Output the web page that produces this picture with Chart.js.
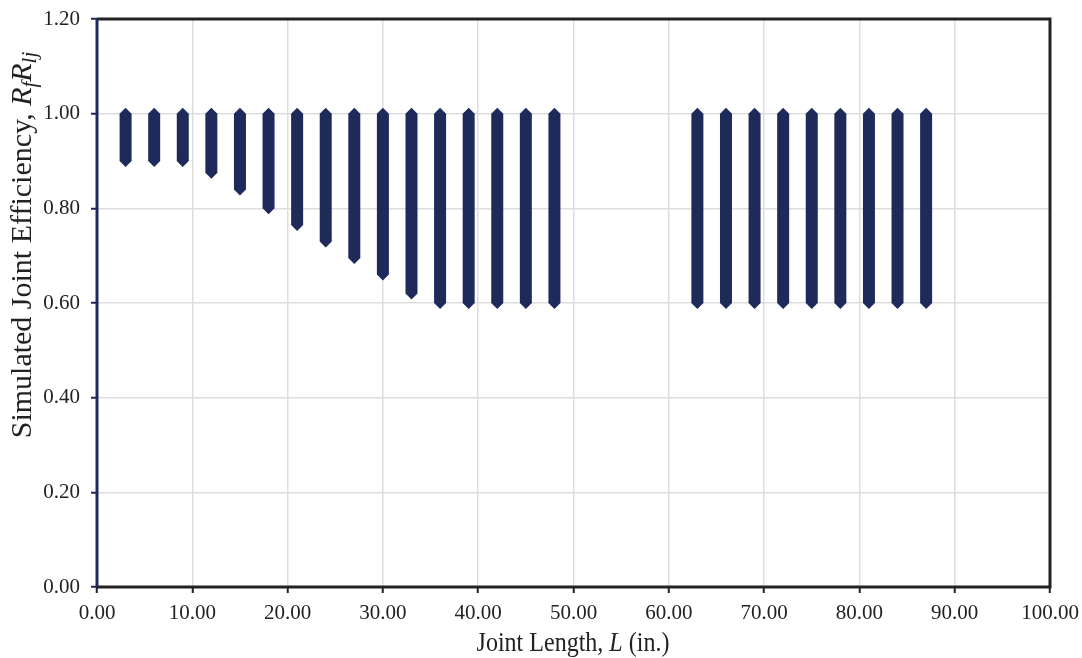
<!DOCTYPE html>
<html>
<head>
<meta charset="utf-8">
<script src="https://cdn.jsdelivr.net/npm/chart.js@4/dist/chart.umd.min.js"></script>
<style>
  html, body { margin: 0; padding: 0; background: #fff; }
  #wrap { width: 1082px; height: 658px; position: relative; }
</style>
</head>
<body>
<div id="wrap"><canvas id="myChart"></canvas></div>
<script>
// joint lengths (in.) and the range of simulated efficiency at each one
const lengths = [3, 6, 9, 12, 15, 18, 21, 24, 27, 30, 33, 36, 39, 42, 45, 48,
                 63, 66, 69, 72, 75, 78, 81, 84, 87];
const lows = [0.90, 0.90, 0.90, 0.875, 0.84, 0.80, 0.765, 0.73, 0.695, 0.66, 0.62, 0.60, 0.60, 0.60, 0.60, 0.60,
              0.60, 0.60, 0.60, 0.60, 0.60, 0.60, 0.60, 0.60, 0.60];
const highs = [1.00, 1.00, 1.00, 1.00, 1.00, 1.00, 1.00, 1.00, 1.00, 1.00, 1.00, 1.00, 1.00, 1.00, 1.00, 1.00,
               1.00, 1.00, 1.00, 1.00, 1.00, 1.00, 1.00, 1.00, 1.00];

const navy = '#1e2a5a';
const font = 'Liberation Serif';

const datasets = lengths.map((x, i) => ({
    data: [{x: x, y: lows[i]}, {x: x, y: highs[i]}],
    showLine: true,
    borderColor: navy,
    borderWidth: 12,
    borderCapStyle: 'butt',
    pointStyle: 'rectRot',
    pointRadius: 6,
    pointHoverRadius: 6,
    pointBackgroundColor: navy,
    pointBorderWidth: 0
}));

// draws a line of text with italic / subscript parts
function richText(ctx, parts, cx, cy, angle, size, sx) {
    const sub = Math.round(size * 0.7);
    const fnt = p => (p.i ? 'italic ' : '') + (p.sub ? sub : size) + 'px "' + font + '"';
    ctx.save();
    ctx.translate(cx, cy);
    ctx.rotate(angle);
    ctx.scale(sx, 1);
    ctx.fillStyle = '#222';
    ctx.textBaseline = 'middle';
    let total = 0;
    parts.forEach(p => {
        ctx.font = fnt(p);
        p.w = ctx.measureText(p.t).width;
        total += p.w;
    });
    let x = -total / 2;
    parts.forEach(p => {
        ctx.font = fnt(p);
        ctx.fillText(p.t, x, p.sub ? size * 0.25 : 0);
        x += p.w;
    });
    ctx.restore();
}

const frame = {
    id: 'frame',
    afterDraw(chart) {
        const ctx = chart.ctx;
        const a = chart.chartArea;
        ctx.save();
        ctx.lineWidth = 3;
        ctx.strokeStyle = '#222';
        ctx.beginPath();
        ctx.moveTo(a.left, a.top);
        ctx.lineTo(a.right, a.top);
        ctx.lineTo(a.right, a.bottom);
        ctx.lineTo(a.left, a.bottom);
        ctx.stroke();
        ctx.strokeStyle = navy;
        ctx.beginPath();
        ctx.moveTo(a.left, a.top);
        ctx.lineTo(a.left, a.bottom);
        ctx.stroke();
        ctx.restore();

        richText(ctx, [
            {t: 'Simulated Joint Efficiency, '},
            {t: 'R', i: true}, {t: 'f', i: true, sub: true},
            {t: 'R', i: true}, {t: 'lj', i: true, sub: true}
        ], 23, 245, -Math.PI / 2, 30, 1);
        richText(ctx, [
            {t: 'Joint Length, '}, {t: 'L', i: true}, {t: ' (in.)'}
        ], 573, 644, 0, 27, 0.89);
    }
};

const config = {
    type: 'scatter',
    data: { datasets: datasets },
    options: {
        responsive: true,
        maintainAspectRatio: false,
        animation: false,
        layout: { padding: { left: 0, top: 19, right: 32, bottom: 0 } },
        plugins: {
            legend: { display: false },
            tooltip: { enabled: false }
        },
        scales: {
            x: {
                type: 'linear',
                min: 0,
                max: 100,
                afterFit: s => {
                    s.height = 71;
                    s.paddingLeft = 0;
                    s.paddingRight = 0;
                },
                border: { display: false },
                grid: {
                    color: '#dddddd',
                    lineWidth: 1.5,
                    tickColor: '#222',
                    tickWidth: 2,
                    tickLength: 6
                },
                ticks: {
                    stepSize: 10,
                    padding: 8,
                    color: '#222',
                    font: { family: font, size: 21 },
                    callback: v => v.toFixed(2)
                }
            },
            y: {
                min: 0,
                max: 1.2,
                afterFit: s => {
                    s.width = 97;
                    s.paddingTop = 0;
                    s.paddingBottom = 0;
                },
                border: { display: false },
                grid: {
                    color: '#dddddd',
                    lineWidth: 1.5,
                    tickColor: navy,
                    tickWidth: 2,
                    tickLength: 6
                },
                ticks: {
                    stepSize: 0.2,
                    padding: 11,
                    color: '#222',
                    font: { family: font, size: 21 },
                    callback: v => v.toFixed(2)
                }
            }
        }
    },
    plugins: [frame]
};

const myChart = new Chart(document.getElementById('myChart'), config);
</script>
</body>
</html>
